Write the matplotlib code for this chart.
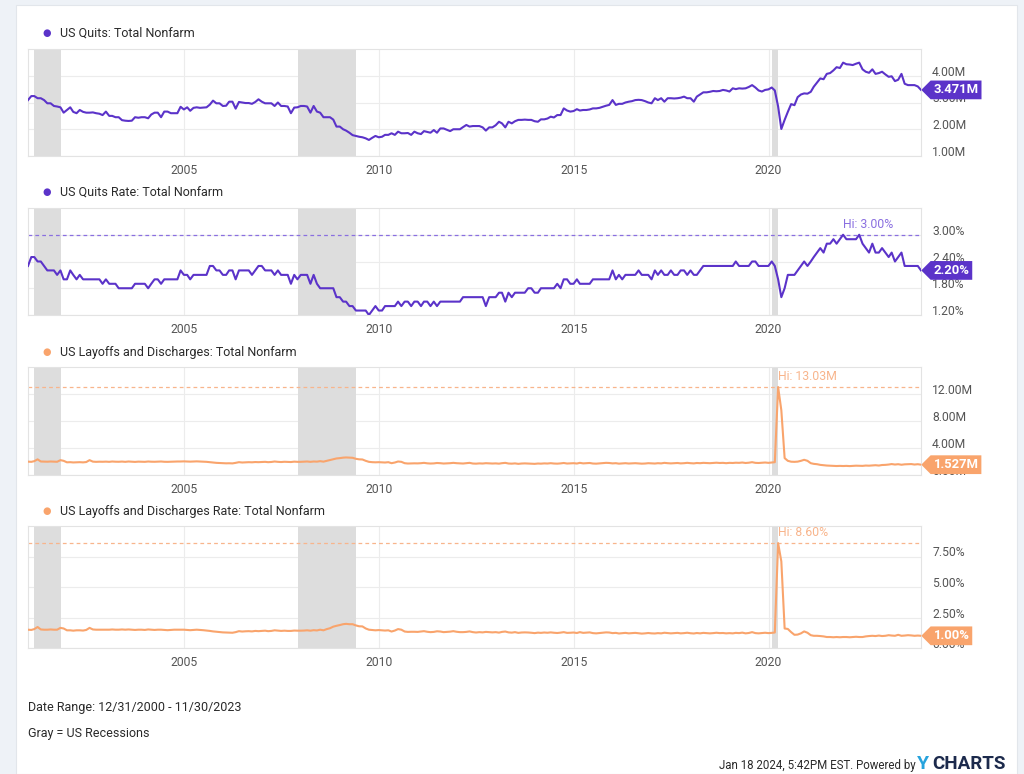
import matplotlib
matplotlib.use('Agg')
import matplotlib.pyplot as plt
from matplotlib.path import Path
from matplotlib.patches import Rectangle
from matplotlib.transforms import ScaledTranslation
import pandas as pd

plt.rcParams['font.family'] = ['Roboto', 'DejaVu Sans']

# monthly values at month end, Dec 2000 -> Nov 2023 (each row = Dec..Nov)
quits = [
    3.09, 3.24, 3.24, 3.16, 3.16, 3.09, 2.97, 2.97, 2.87, 2.85, 2.82, 2.62,
    2.72, 2.82, 2.65, 2.60, 2.72, 2.65, 2.62, 2.62, 2.63, 2.60, 2.58, 2.53,
    2.66, 2.50, 2.50, 2.45, 2.45, 2.34, 2.32, 2.31, 2.32, 2.45, 2.43, 2.45,
    2.45, 2.41, 2.55, 2.62, 2.62, 2.45, 2.66, 2.66, 2.60, 2.60, 2.60, 2.84,
    2.74, 2.82, 2.69, 2.80, 2.82, 2.80, 2.81, 2.82, 2.92, 3.07, 2.97, 2.97,
    2.87, 2.88, 3.03, 3.03, 2.77, 3.02, 3.00, 2.98, 2.98, 2.95, 3.02, 3.12,
    3.03, 2.97, 2.97, 2.97, 2.87, 3.00, 2.87, 2.87, 2.85, 2.60, 2.81, 2.82,
    2.87, 2.87, 2.85, 2.62, 2.87, 2.66, 2.62, 2.45, 2.45, 2.45, 2.36, 2.10,
    2.10, 2.00, 1.95, 1.87, 1.78, 1.75, 1.72, 1.70, 1.66, 1.60, 1.68, 1.75,
    1.70, 1.72, 1.79, 1.79, 1.85, 1.79, 1.91, 1.85, 1.85, 1.86, 1.79, 1.91,
    1.85, 1.82, 1.93, 1.90, 1.87, 1.97, 1.87, 2.03, 2.03, 1.98, 1.93, 2.00,
    2.00, 2.00, 2.08, 2.16, 2.10, 2.12, 2.12, 2.12, 2.07, 1.95, 2.07, 2.07,
    2.15, 2.28, 2.22, 2.07, 2.28, 2.22, 2.30, 2.35, 2.35, 2.36, 2.35, 2.35,
    2.30, 2.28, 2.37, 2.37, 2.40, 2.47, 2.44, 2.53, 2.53, 2.78, 2.70, 2.66,
    2.68, 2.75, 2.70, 2.72, 2.72, 2.74, 2.78, 2.78, 2.80, 2.84, 2.88, 2.91,
    3.09, 2.91, 2.95, 2.95, 3.00, 3.03, 3.05, 3.09, 3.10, 3.09, 3.05, 3.00,
    2.97, 3.16, 3.09, 3.16, 3.03, 3.16, 3.16, 3.15, 3.16, 3.18, 3.22, 3.16,
    3.16, 3.03, 3.22, 3.30, 3.38, 3.38, 3.40, 3.43, 3.42, 3.43, 3.47, 3.45,
    3.41, 3.53, 3.50, 3.53, 3.52, 3.53, 3.58, 3.65, 3.56, 3.45, 3.41, 3.47,
    3.49, 3.56, 3.45, 2.85, 2.01, 2.35, 2.65, 2.94, 2.90, 3.20, 3.30, 3.34,
    3.33, 3.40, 3.59, 3.75, 3.90, 3.87, 4.07, 4.10, 4.20, 4.32, 4.29, 4.49,
    4.43, 4.42, 4.40, 4.45, 4.49, 4.24, 4.15, 4.11, 4.24, 4.07, 4.10, 4.15,
    4.05, 3.96, 3.98, 3.80, 3.85, 4.07, 3.70, 3.65, 3.65, 3.65, 3.60, 3.471,
]

quits_rate = [
    2.3, 2.5, 2.5, 2.4, 2.4, 2.3, 2.2, 2.2, 2.2, 2.1, 2.2, 2.0,
    2.0, 2.2, 2.1, 2.0, 2.1, 2.0, 2.0, 2.0, 2.0, 2.0, 2.0, 1.9,
    2.0, 1.9, 1.9, 1.9, 1.8, 1.8, 1.8, 1.8, 1.8, 1.9, 1.9, 1.9,
    1.9, 1.8, 1.9, 2.0, 2.0, 1.9, 2.0, 2.0, 2.0, 2.0, 2.0, 2.2,
    2.1, 2.1, 2.0, 2.1, 2.1, 2.1, 2.1, 2.1, 2.3, 2.3, 2.2, 2.2,
    2.1, 2.1, 2.2, 2.2, 2.0, 2.2, 2.2, 2.2, 2.2, 2.1, 2.2, 2.3,
    2.3, 2.2, 2.2, 2.2, 2.1, 2.2, 2.1, 2.1, 2.1, 1.9, 2.1, 2.0,
    2.1, 2.1, 2.1, 1.9, 2.1, 1.9, 1.8, 1.8, 1.8, 1.8, 1.8, 1.6,
    1.6, 1.5, 1.5, 1.4, 1.4, 1.3, 1.3, 1.3, 1.3, 1.2, 1.3, 1.4,
    1.3, 1.3, 1.4, 1.4, 1.4, 1.4, 1.5, 1.4, 1.5, 1.5, 1.4, 1.5,
    1.5, 1.4, 1.5, 1.5, 1.4, 1.5, 1.4, 1.5, 1.5, 1.5, 1.5, 1.5,
    1.5, 1.5, 1.6, 1.6, 1.6, 1.6, 1.6, 1.6, 1.6, 1.4, 1.6, 1.6,
    1.6, 1.7, 1.7, 1.5, 1.7, 1.6, 1.7, 1.7, 1.7, 1.7, 1.8, 1.8,
    1.7, 1.7, 1.8, 1.8, 1.8, 1.8, 1.8, 1.9, 1.8, 2.0, 2.0, 1.9,
    1.9, 2.0, 1.9, 1.9, 1.9, 1.9, 2.0, 2.0, 2.0, 2.0, 2.0, 2.0,
    2.2, 2.0, 2.1, 2.0, 2.1, 2.1, 2.1, 2.1, 2.2, 2.1, 2.1, 2.1,
    2.0, 2.2, 2.1, 2.2, 2.1, 2.1, 2.2, 2.1, 2.1, 2.2, 2.2, 2.1,
    2.2, 2.1, 2.1, 2.2, 2.3, 2.3, 2.3, 2.3, 2.3, 2.3, 2.3, 2.3,
    2.3, 2.3, 2.4, 2.3, 2.3, 2.3, 2.3, 2.4, 2.4, 2.3, 2.3, 2.3,
    2.3, 2.4, 2.3, 2.0, 1.6, 1.8, 2.1, 2.1, 2.1, 2.2, 2.3, 2.4,
    2.3, 2.4, 2.5, 2.6, 2.7, 2.6, 2.8, 2.8, 2.9, 2.8, 2.9, 3.0,
    2.9, 2.9, 2.9, 2.9, 3.0, 2.8, 2.7, 2.6, 2.8, 2.6, 2.6, 2.7,
    2.6, 2.5, 2.6, 2.4, 2.5, 2.6, 2.3, 2.3, 2.3, 2.3, 2.3, 2.2,
]

layoffs = [
    1.98, 1.95, 2.05, 2.32, 2.00, 1.98, 1.97, 2.00, 1.98, 1.96, 2.20, 2.10,
    1.88, 1.90, 1.86, 1.88, 1.90, 1.87, 1.92, 2.20, 1.98, 1.95, 1.97, 1.96,
    1.98, 1.95, 2.00, 1.97, 1.96, 1.99, 1.95, 2.00, 1.97, 1.94, 1.98, 1.96,
    1.95, 2.00, 1.97, 1.96, 1.98, 2.00, 1.96, 1.95, 1.97, 1.99, 2.00, 2.00,
    2.02, 2.00, 1.98, 2.00, 2.02, 2.00, 1.98, 1.95, 1.90, 1.85, 1.80, 1.78,
    1.75, 1.73, 1.74, 1.72, 1.80, 1.90, 1.85, 1.88, 1.90, 1.88, 1.92, 1.90,
    1.92, 1.95, 1.90, 1.93, 2.00, 1.95, 1.92, 1.96, 1.94, 1.92, 1.98, 1.95,
    1.95, 1.97, 2.00, 1.95, 2.00, 1.98, 2.05, 1.98, 2.10, 2.20, 2.35, 2.45,
    2.50, 2.57, 2.60, 2.57, 2.55, 2.40, 2.32, 2.30, 2.10, 1.95, 1.90, 1.88,
    1.90, 1.88, 1.85, 1.90, 1.75, 1.85, 2.00, 1.95, 1.75, 1.70, 1.72, 1.73,
    1.72, 1.75, 1.80, 1.73, 1.70, 1.72, 1.78, 1.75, 1.70, 1.72, 1.75, 1.80,
    1.75, 1.72, 1.70, 1.75, 1.80, 1.70, 1.68, 1.72, 1.70, 1.75, 1.72, 1.70,
    1.72, 1.68, 1.75, 1.80, 1.70, 1.68, 1.72, 1.65, 1.70, 1.72, 1.70, 1.68,
    1.65, 1.70, 1.68, 1.72, 1.70, 1.75, 1.70, 1.68, 1.72, 1.78, 1.70, 1.72,
    1.75, 1.70, 1.80, 1.72, 1.75, 1.78, 1.70, 1.68, 1.72, 1.75, 1.80, 1.78,
    1.72, 1.75, 1.68, 1.72, 1.75, 1.70, 1.72, 1.75, 1.72, 1.68, 1.70, 1.75,
    1.72, 1.70, 1.75, 1.72, 1.80, 1.75, 1.72, 1.75, 1.78, 1.72, 1.75, 1.80,
    1.75, 1.72, 1.78, 1.75, 1.80, 1.78, 1.75, 1.78, 1.82, 1.78, 1.80, 1.75,
    1.80, 1.78, 1.82, 1.80, 1.85, 1.78, 1.82, 1.90, 1.80, 1.78, 1.82, 1.85,
    1.80, 1.85, 1.90, 13.03, 9.60, 2.50, 2.10, 1.97, 1.95, 1.98, 2.10, 2.25,
    2.10, 1.75, 1.65, 1.60, 1.50, 1.45, 1.40, 1.38, 1.35, 1.33, 1.35, 1.33,
    1.35, 1.32, 1.35, 1.38, 1.36, 1.35, 1.40, 1.38, 1.42, 1.45, 1.40, 1.48,
    1.50, 1.55, 1.62, 1.55, 1.60, 1.52, 1.58, 1.60, 1.62, 1.55, 1.60, 1.527,
]

layoffs_rate = [
    1.50, 1.48, 1.55, 1.72, 1.52, 1.50, 1.50, 1.52, 1.50, 1.50, 1.65, 1.60,
    1.45, 1.45, 1.42, 1.45, 1.45, 1.43, 1.48, 1.65, 1.52, 1.50, 1.50, 1.50,
    1.50, 1.50, 1.52, 1.50, 1.50, 1.52, 1.50, 1.52, 1.50, 1.48, 1.50, 1.50,
    1.48, 1.52, 1.50, 1.48, 1.50, 1.50, 1.48, 1.46, 1.48, 1.50, 1.50, 1.50,
    1.50, 1.48, 1.46, 1.48, 1.50, 1.48, 1.46, 1.43, 1.40, 1.36, 1.33, 1.30,
    1.28, 1.27, 1.27, 1.25, 1.30, 1.38, 1.35, 1.37, 1.38, 1.36, 1.40, 1.38,
    1.40, 1.42, 1.38, 1.40, 1.45, 1.42, 1.40, 1.42, 1.40, 1.40, 1.43, 1.42,
    1.42, 1.43, 1.45, 1.42, 1.46, 1.44, 1.50, 1.45, 1.55, 1.62, 1.75, 1.82,
    1.88, 1.95, 1.98, 1.95, 1.95, 1.85, 1.78, 1.77, 1.60, 1.50, 1.47, 1.45,
    1.47, 1.45, 1.43, 1.45, 1.35, 1.43, 1.55, 1.50, 1.35, 1.32, 1.33, 1.33,
    1.32, 1.35, 1.38, 1.33, 1.30, 1.32, 1.37, 1.35, 1.30, 1.32, 1.34, 1.38,
    1.33, 1.30, 1.30, 1.32, 1.36, 1.30, 1.27, 1.30, 1.28, 1.32, 1.30, 1.28,
    1.30, 1.26, 1.32, 1.35, 1.28, 1.26, 1.30, 1.24, 1.27, 1.28, 1.27, 1.25,
    1.22, 1.26, 1.24, 1.27, 1.25, 1.28, 1.25, 1.23, 1.26, 1.30, 1.24, 1.25,
    1.27, 1.23, 1.30, 1.24, 1.26, 1.28, 1.22, 1.20, 1.23, 1.25, 1.28, 1.27,
    1.22, 1.24, 1.19, 1.22, 1.24, 1.20, 1.22, 1.24, 1.21, 1.18, 1.20, 1.23,
    1.20, 1.19, 1.22, 1.20, 1.25, 1.22, 1.20, 1.22, 1.24, 1.20, 1.22, 1.25,
    1.21, 1.19, 1.23, 1.20, 1.24, 1.22, 1.20, 1.22, 1.25, 1.22, 1.23, 1.20,
    1.22, 1.20, 1.24, 1.22, 1.26, 1.20, 1.23, 1.30, 1.22, 1.20, 1.23, 1.25,
    1.22, 1.24, 1.27, 8.60, 7.10, 1.60, 1.56, 1.30, 1.08, 1.10, 1.20, 1.36,
    1.25, 1.05, 1.00, 1.00, 0.98, 0.95, 0.90, 0.90, 0.88, 0.90, 0.88, 0.90,
    0.90, 0.88, 0.90, 0.92, 0.90, 0.90, 0.95, 0.98, 1.00, 0.98, 1.02, 0.98,
    1.00, 1.05, 1.02, 1.00, 1.08, 1.00, 1.02, 1.05, 1.03, 1.00, 1.02, 1.00,
]

recessions = [('2001-03-01', '2001-11-01'),
              ('2007-12-01', '2009-06-01'),
              ('2020-02-01', '2020-04-01')]
year_labels = ['2005', '2010', '2015', '2020']

try:
    dates = pd.date_range('2000-12-31', periods=len(quits), freq='ME')
except ValueError:
    dates = pd.date_range('2000-12-31', periods=len(quits), freq='M')

PURPLE = '#5b33c9'
PURPLE_LT = '#8a6fe0'
ORANGE = '#f9a46c'
ORANGE_LT = '#f8b58c'
TEXT = '#2a2a2a'

W, H = 1024, 774
fig = plt.figure(figsize=(W / 100, H / 100), dpi=100, facecolor='#eef2f7')
fig.patches.append(Rectangle((16 / W, 0), (1017 - 16) / W, 1 - 5 / H,
                             transform=fig.transFigure, fc='white',
                             ec='#e2e6eb', lw=0.8, zorder=-1))


def tag_shape(x0, y0, width, height, mutation_size):
    pad = 0.22 * mutation_size
    x0, y0 = x0 - pad, y0 - pad
    x1, y1 = x0 + width + 2 * pad, y0 + height + 2 * pad
    tip = (y1 - y0) / 2
    verts = [(x0, y0), (x1, y0), (x1, y1), (x0, y1), (x0 - tip, y0 + tip), (x0, y0)]
    return Path(verts, closed=True)


panels = [
    dict(title='US Quits: Total Nonfarm', data=quits, color=PURPLE, hicolor=None,
         top=49, bottom=156, ylim=(1, 5), ticks=[1, 2, 3, 4], fmt='{:.2f}M',
         tag='3.471M', hi=None, title_y=33),
    dict(title='US Quits Rate: Total Nonfarm', data=quits_rate, color=PURPLE,
         hicolor=PURPLE_LT, top=208, bottom=315, ylim=(1.2, 3.6),
         ticks=[1.2, 1.8, 2.4, 3.0], fmt='{:.2f}%', tag='2.20%',
         hi='Hi: 3.00%', title_y=192),
    dict(title='US Layoffs and Discharges: Total Nonfarm', data=layoffs, color=ORANGE,
         hicolor=ORANGE_LT, top=367, bottom=475, ylim=(0, 16),
         ticks=[0, 4, 8, 12], fmt='{:.2f}M', tag='1.527M', hi='Hi: 13.03M',
         title_y=352),
    dict(title='US Layoffs and Discharges Rate: Total Nonfarm', data=layoffs_rate,
         color=ORANGE, hicolor=ORANGE_LT, top=526, bottom=648, ylim=(0, 10),
         ticks=[0, 2.5, 5, 7.5], fmt='{:.2f}%', tag='1.00%', hi='Hi: 8.60%',
         title_y=511),
]

left, right = 28, 921
for p in panels:
    ax = fig.add_axes([left / W, 1 - p['bottom'] / H, (right - left) / W,
                       (p['bottom'] - p['top']) / H])
    ax.set_facecolor('white')
    for a, b in recessions:
        ax.axvspan(pd.Timestamp(a), pd.Timestamp(b), color='#dddddd', lw=0, zorder=0.6)
    ax.plot(dates, p['data'], color=p['color'], lw=1.5, zorder=3,
            solid_joinstyle='round')
    ax.set_xlim(dates[0], dates[-1])
    ax.set_ylim(*p['ylim'])
    ax.set_xticks([pd.Timestamp(y + '-01-01') for y in year_labels])
    ax.set_xticklabels(year_labels)
    ax.set_yticks(p['ticks'])
    ax.set_yticklabels([p['fmt'].format(t) for t in p['ticks']])
    ax.yaxis.tick_right()
    ax.tick_params(axis='both', length=0, labelsize=8.7, labelcolor='#555555')
    ax.tick_params(axis='y', pad=8)
    ax.tick_params(axis='x', pad=6)
    ax.grid(True, color='#ececec', lw=0.8)
    ax.set_axisbelow(True)
    for s in ax.spines.values():
        s.set_color('#e3e3e3')
        s.set_linewidth(0.8)
    shift = ScaledTranslation(0, 5 / 100, fig.dpi_scale_trans)
    for lab in ax.get_yticklabels():
        lab.set_transform(lab.get_transform() + shift)

    # high water mark
    if p['hi']:
        vals = p['data']
        i_hi = vals.index(max(vals))
        ax.axhline(vals[i_hi], color=p['hicolor'], lw=0.9, ls=(0, (3, 2.5)), zorder=2)
        ax.annotate(p['hi'], xy=(dates[i_hi], vals[i_hi]), xytext=(0, 3),
                    textcoords='offset points', ha='left', va='bottom',
                    fontsize=8.8, color=p['hicolor'], zorder=4)

    # last value tag
    ax.annotate(p['tag'], xy=(1, p['data'][-1]), xycoords=('axes fraction', 'data'),
                xytext=(9, 0), textcoords='offset points', ha='left', va='center',
                fontsize=9.4, fontweight='bold', color='white', annotation_clip=False,
                bbox=dict(boxstyle=tag_shape, fc=p['color'], ec='none'), zorder=10)

    # panel title with bullet
    fig.text(47 / W, 1 - p['title_y'] / H, '\u25CF', ha='center', va='center',
             fontsize=7, color=p['color'], family='DejaVu Sans')
    fig.text(60 / W, 1 - p['title_y'] / H, p['title'], ha='left', va='center',
             fontsize=9, color=TEXT)

fig.text(28 / W, 1 - 707 / H, 'Date Range: 12/31/2000 - 11/30/2023', ha='left',
         va='center', fontsize=9, color=TEXT)
fig.text(28 / W, 1 - 733 / H, 'Gray = US Recessions', ha='left', va='center',
         fontsize=9, color=TEXT)
fig.text(916 / W, 1 - 765 / H, 'Jan 18 2024, 5:42PM EST. Powered by', ha='right',
         va='center', fontsize=8.3, color=TEXT)
fig.text(917 / W, 1 - 764 / H, 'Y', ha='left', va='center', fontsize=14,
         fontweight='bold', color='#27a3dd')
fig.text(932 / W, 1 - 764 / H, 'CHARTS', ha='left', va='center', fontsize=13.5,
         fontweight='bold', color='#1c2a4c')

fig.savefig('out.png', dpi=100, facecolor=fig.get_facecolor())
